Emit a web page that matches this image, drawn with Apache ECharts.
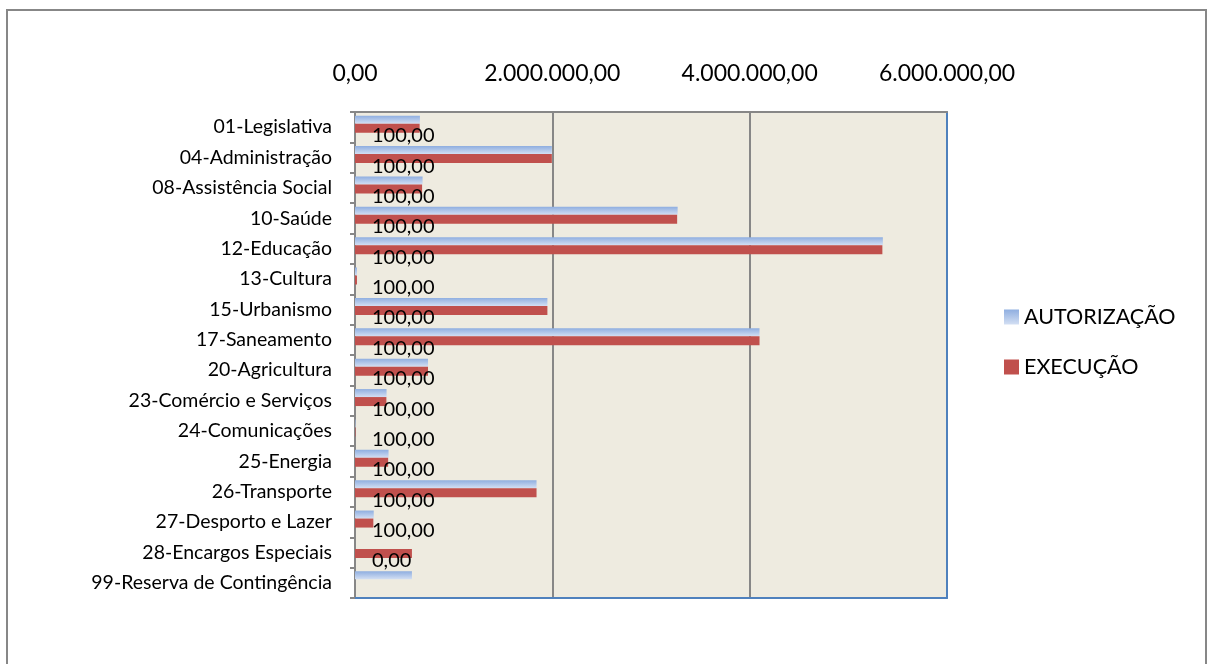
<!DOCTYPE html>
<html>
<head>
<meta charset="utf-8">
<script src="https://cdn.jsdelivr.net/npm/echarts@6/dist/echarts.min.js"></script>
<style>
  html, body { margin: 0; padding: 0; background: #fff; }
  #chart { width: 1208px; height: 664px; }
</style>
</head>
<body>
<div id="chart"></div>
<script>
// funções orçamentárias
const funcoes = [
  "01-Legislativa", "04-Administração", "08-Assistência Social", "10-Saúde",
  "12-Educação", "13-Cultura", "15-Urbanismo", "17-Saneamento",
  "20-Agricultura", "23-Comércio e Serviços", "24-Comunicações", "25-Energia",
  "26-Transporte", "27-Desporto e Lazer", "28-Encargos Especiais", "99-Reserva de Contingência"
];
const autorizacao = [
  658000, 1995000, 685000, 3270000, 5350000, 20000, 1950000, 4100000,
  740000, 320000, 5000, 340000, 1840000, 190000, 0, 577000
];
const execucao = [
  655000, 1995000, 680000, 3265000, 5345000, 20000, 1950000, 4100000,
  740000, 318000, 5000, 336000, 1840000, 186000, 577000, 0
];
// percentual executado (rótulos)
const percentual = [
  100, 100, 100, 100, 100, 100, 100, 100,
  100, 100, 100, 100, 100, 100, 0, "-"
];
const xTicks = [0, 2000000, 4000000, 6000000];

const fmtBR = v => {
  const p = Number(v).toFixed(2).split(".");
  p[0] = p[0].replace(/\B(?=(\d{3})+(?!\d))/g, ".");
  return p.join(",");
};

const FONT = "Lato";
const chart = echarts.init(document.getElementById("chart"));

const option = {
  animation: false,
  textStyle: { fontFamily: FONT },
  graphic: [
    {
      type: "rect",
      shape: { x: 7, y: 10, width: 1199, height: 700 },
      style: { fill: "none", stroke: "#878787", lineWidth: 2 },
      silent: true
    }
  ],
  legend: {
    data: ["AUTORIZAÇÃO", "EXECUÇÃO"],
    orient: "vertical",
    left: 999,
    top: 301,
    icon: "rect",
    itemWidth: 15,
    itemHeight: 15,
    itemGap: 28,
    textStyle: { fontFamily: FONT, fontSize: 21.5, color: "#000", lineHeight: 20 }
  },
  grid: {
    left: 355,
    top: 112,
    right: 261,
    bottom: 66,
    show: true,
    backgroundColor: "#EEEBE0",
    borderWidth: 0
  },
  xAxis: [
    {
      type: "value",
      position: "top",
      min: xTicks[0],
      max: xTicks[xTicks.length - 1],
      interval: 2000000,
      axisLine: { show: true, lineStyle: { color: "#878787", width: 2 } },
      axisTick: { show: false },
      splitLine: { show: true, lineStyle: { color: "#878787", width: 2 } },
      axisLabel: {
        margin: 27,
        fontFamily: FONT,
        fontSize: 23,
        color: "#000",
        formatter: v => fmtBR(v)
      }
    },
    {
      type: "value",
      position: "bottom",
      min: xTicks[0],
      max: xTicks[xTicks.length - 1],
      interval: 2000000,
      axisLine: { show: true, onZero: false, lineStyle: { color: "#4F81BD", width: 2 } },
      axisTick: { show: false },
      splitLine: { show: false },
      axisLabel: { show: false }
    }
  ],
  yAxis: [
    {
      type: "category",
      inverse: true,
      data: funcoes,
      axisLine: { show: true, lineStyle: { color: "#878787", width: 2 } },
      axisTick: { show: true, length: 5, lineStyle: { color: "#878787", width: 2 } },
      axisLabel: { margin: 23, fontFamily: FONT, fontSize: 19.5, color: "#000" }
    },
    {
      type: "category",
      inverse: true,
      position: "right",
      data: funcoes,
      axisLine: { show: true, onZero: false, lineStyle: { color: "#4F81BD", width: 2 } },
      axisTick: { show: false },
      axisLabel: { show: false }
    }
  ],
  series: [
    {
      name: "AUTORIZAÇÃO",
      type: "bar",
      barWidth: 8,
      barGap: "0%",
      itemStyle: {
        color: new echarts.graphic.LinearGradient(0, 0, 0, 1, [
          { offset: 0, color: "#8FAEE0" },
          { offset: 1, color: "#D3DFF3" }
        ])
      },
      data: autorizacao
    },
    {
      name: "EXECUÇÃO",
      type: "bar",
      barWidth: 9,
      barGap: "0%",
      itemStyle: { color: "#C0504D" },
      data: execucao
    },
    {
      name: "%",
      type: "bar",
      barWidth: 6,
      barGap: "0%",
      itemStyle: { color: "transparent" },
      label: {
        show: true,
        position: "right",
        distance: 17,
        fontFamily: FONT,
        fontSize: 20,
        color: "#000",
        formatter: p => fmtBR(p.value)
      },
      data: percentual
    }
  ]
};
chart.setOption(option);
</script>
</body>
</html>
